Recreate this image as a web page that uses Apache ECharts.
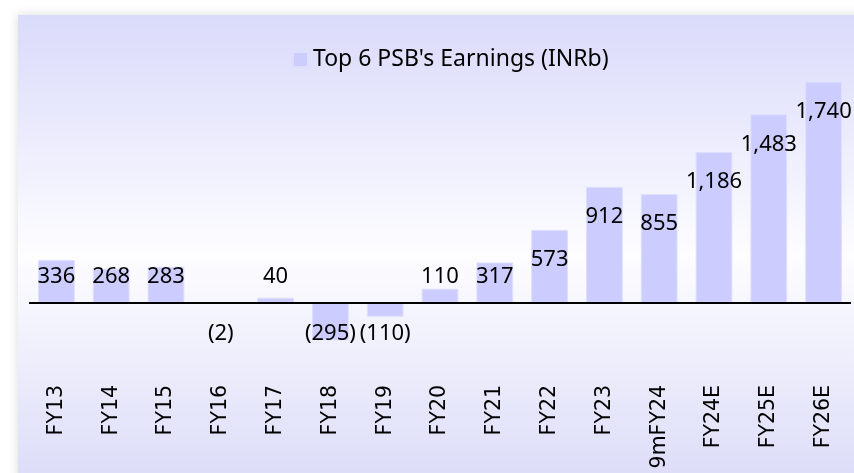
<!DOCTYPE html>
<html>
<head>
<meta charset="utf-8">
<script src="https://cdn.jsdelivr.net/npm/echarts@6/dist/echarts.min.js"></script>
<style>
html,body{margin:0;padding:0;background:#ffffff;}
#chart{width:854px;height:473px;}
</style>
</head>
<body>
<div id="chart"></div>
<script>
const categories = ['FY13','FY14','FY15','FY16','FY17','FY18','FY19','FY20','FY21','FY22','FY23','9mFY24','FY24E','FY25E','FY26E'];
const earnings = [336, 268, 283, -2, 40, -295, -110, 110, 317, 573, 912, 855, 1186, 1483, 1740];
const seriesName = "Top 6 PSB's Earnings (INRb)";

const yMin = -600, yMax = 1800;
const gridTop = 74, gridBottom = 94, chartH = 473;
const pxPerUnit = (chartH - gridTop - gridBottom) / (yMax - yMin);

function fmt(v) {
  const s = Math.abs(v).toLocaleString('en-US');
  return v < 0 ? '(' + s + ')' : s;
}

const barData = earnings.map(function (v) {
  let label;
  if (v < 0) {
    label = { position: 'insideTop', distance: 20 };
  } else if (v * pxPerUnit >= 56) {
    label = { position: 'insideTop', distance: 19 };
  } else {
    label = { position: 'insideBottom', distance: 15 };
  }
  return { value: v, label: label };
});

const chart = echarts.init(document.getElementById('chart'), null, { renderer: 'canvas' });
chart.setOption({
  animation: false,
  graphic: [{
    type: 'rect',
    z: -10,
    silent: true,
    shape: { x: 18, y: 15, width: 860, height: 480 },
    style: {
      fill: new echarts.graphic.LinearGradient(0, 0, 0, 1, [
        { offset: 0, color: '#dadafb' },
        { offset: 0.5, color: '#fdfdff' },
        { offset: 1, color: '#dadaf8' }
      ]),
      shadowBlur: 10,
      shadowColor: 'rgba(0,0,0,0.14)'
    }
  }],
  legend: {
    top: 43,
    left: 287,
    itemWidth: 15,
    itemHeight: 15,
    itemGap: 10,
    icon: 'rect',
    textStyle: { fontFamily: 'Noto Sans', fontSize: 23, color: '#000' },
    data: [seriesName]
  },
  grid: { left: 29, right: 3, top: gridTop, bottom: gridBottom, containLabel: false },
  xAxis: {
    type: 'category',
    data: categories,
    axisLine: { show: false, onZero: false },
    axisTick: { show: false },
    axisLabel: {
      rotate: 90,
      margin: 6,
      interval: 0,
      fontFamily: 'DejaVu Sans',
      fontSize: 20.5,
      color: '#000'
    }
  },
  yAxis: {
    type: 'value',
    min: yMin,
    max: yMax,
    show: false,
    splitLine: { show: false }
  },
  series: [{
    name: seriesName,
    type: 'bar',
    data: barData,
    barCategoryGap: '33%',
    itemStyle: { color: '#ccccff', borderColor: '#dedeff', borderWidth: 1 },
    label: {
      show: true,
      fontFamily: 'Noto Sans',
      fontSize: 22,
      color: '#000',
      formatter: function (p) { return fmt(p.value); }
    },
    markLine: {
      silent: true,
      symbol: ['none', 'none'],
      label: { show: false },
      lineStyle: { color: '#000', width: 2, type: 'solid' },
      data: [{ yAxis: 0 }]
    }
  }]
});
</script>
</body>
</html>
